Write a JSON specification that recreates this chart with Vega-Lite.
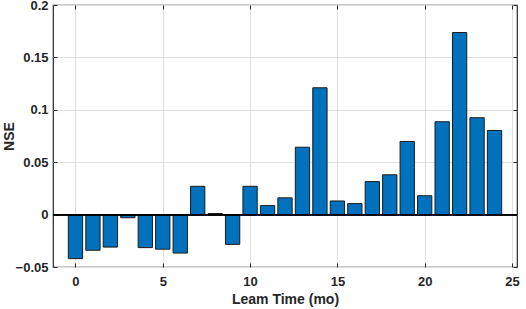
{
  "$schema": "https://vega.github.io/schema/vega-lite/v6.json",
  "autosize": "none",
  "width": 464,
  "height": 262,
  "padding": {"left": 53, "top": 5, "right": 9, "bottom": 42},
  "config": {
    "font": "Liberation Sans",
    "view": {"stroke": "#262626", "strokeWidth": 1.2},
    "axis": {
      "labelFont": "Liberation Sans", "labelFontWeight": "bold", "labelFontSize": 13, "labelColor": "#262626",
      "titleFont": "Liberation Sans", "titleFontWeight": "bold", "titleFontSize": 14, "titleColor": "#262626",
      "gridColor": "#dfdfdf", "gridWidth": 1, "domain": false,
      "tickColor": "#262626", "tickSize": -4, "tickWidth": 1
    }
  },
  "data": {"values": [
    {"lead": 0, "nse": -0.042}, {"lead": 1, "nse": -0.034}, {"lead": 2, "nse": -0.031},
    {"lead": 3, "nse": -0.003}, {"lead": 4, "nse": -0.0315}, {"lead": 5, "nse": -0.033},
    {"lead": 6, "nse": -0.0367}, {"lead": 7, "nse": 0.027}, {"lead": 8, "nse": 0.001},
    {"lead": 9, "nse": -0.0284}, {"lead": 10, "nse": 0.027}, {"lead": 11, "nse": 0.0086},
    {"lead": 12, "nse": 0.016}, {"lead": 13, "nse": 0.0643}, {"lead": 14, "nse": 0.121},
    {"lead": 15, "nse": 0.013}, {"lead": 16, "nse": 0.0105}, {"lead": 17, "nse": 0.0315},
    {"lead": 18, "nse": 0.038}, {"lead": 19, "nse": 0.0698}, {"lead": 20, "nse": 0.018},
    {"lead": 21, "nse": 0.0886}, {"lead": 22, "nse": 0.1737}, {"lead": 23, "nse": 0.0924},
    {"lead": 24, "nse": 0.0803}
  ]},
  "layer": [
    {
      "mark": {"type": "bar", "width": 14.3, "fill": "#0072BD", "stroke": "#1a1a1a", "strokeWidth": 1},
      "encoding": {
        "x": {"field": "lead", "type": "quantitative", "scale": {"domain": [-1, 25], "nice": false, "zero": false},
              "axis": {"values": [0, 5, 10, 15, 20, 25], "title": "Leam Time (mo)", "labelPadding": 12, "titlePadding": 4, "grid": true}},
        "y": {"field": "nse", "type": "quantitative", "scale": {"domain": [-0.05, 0.2], "nice": false},
              "axis": {"values": [-0.05, 0, 0.05, 0.1, 0.15, 0.2], "format": "~g", "title": "NSE", "labelPadding": 9, "titleX": -40, "titleY": 131, "titleBaseline": "alphabetic", "grid": true}}
      }
    },
    {
      "mark": {"type": "rule", "color": "#000000", "strokeWidth": 1},
      "encoding": {
        "y": {"datum": 0, "type": "quantitative", "axis": null}
      }
    },
    {
      "mark": {"type": "point", "opacity": 0},
      "encoding": {
        "x": {"field": "lead", "type": "quantitative", "axis": {"orient": "top", "values": [0, 5, 10, 15, 20, 25], "labels": false, "title": null, "grid": false}},
        "y": {"field": "nse", "type": "quantitative", "axis": {"orient": "right", "values": [-0.05, 0, 0.05, 0.1, 0.15, 0.2], "labels": false, "title": null, "grid": false}}
      }
    }
  ],
  "resolve": {"axis": {"x": "independent", "y": "independent"}}
}
